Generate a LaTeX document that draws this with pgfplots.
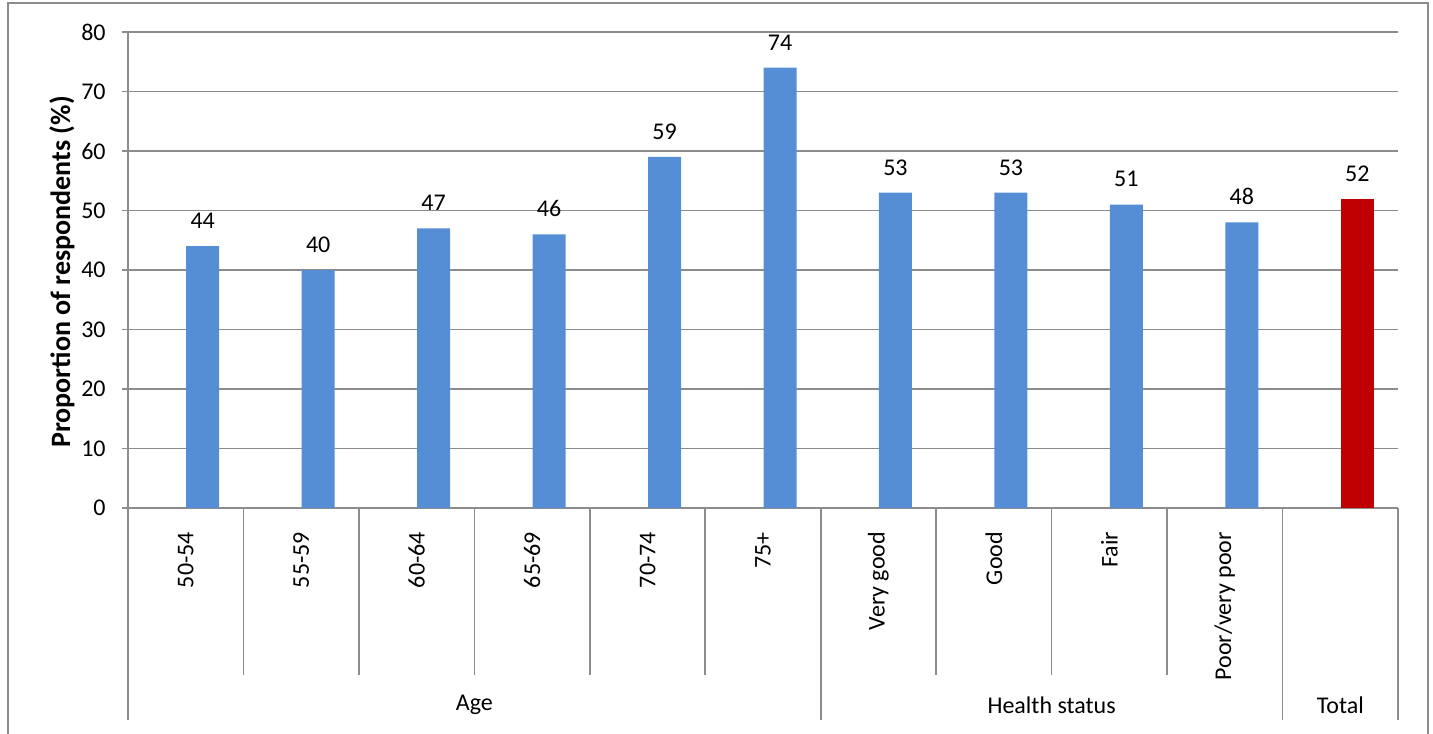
\documentclass[border=0pt]{standalone}
\usepackage{fontspec}
\setmainfont{Carlito}
\usepackage{pgfplots}
\pgfplotsset{compat=1.18}
\definecolor{barblue}{HTML}{558ED5}
\definecolor{barred}{HTML}{C00000}
\definecolor{rulegray}{HTML}{8C8C8C}
\begin{document}
\begin{tikzpicture}[font=\fontsize{12}{14}\selectfont]
\path[use as bounding box] (0,0) rectangle (716.5pt,366.5pt);
% chart frame
\draw[rulegray, line width=0.8pt] (4pt,-10pt) rectangle (714pt,365pt);
\begin{axis}[
  at={(64pt,112.5pt)}, anchor=south west,
  scale only axis, width=635pt, height=238pt,
  xmin=-0.5, xmax=10.5, ymin=0, ymax=80,
  ytick={0,10,...,80}, xtick=\empty,
  axis x line*=bottom, axis y line*=left,
  axis line style={rulegray, line width=0.8pt, -},
  ymajorgrids, grid style={rulegray, line width=0.8pt},
  ytick style={rulegray, line width=0.8pt},
  tick align=outside, major tick length=3pt,
  yticklabel style={inner sep=0pt, xshift=-8pt, font=\fontsize{12}{14}\selectfont},
  /pgf/number format/assume math mode=true,
  ybar, clip=false,
  nodes near coords,
  nodes near coords style={anchor=south, inner sep=0pt, yshift=8.5pt,
    font=\fontsize{12}{14}\selectfont, black},
]
\addplot[fill=barblue, draw=none, bar width=16.5pt, bar shift=8.5pt] coordinates {
  (0,44) (1,40) (2,47) (3,46) (4,59) (5,74) (6,53) (7,53) (8,51) (9,48)};
\addplot[fill=barred, draw=none, bar width=16.5pt, bar shift=8.5pt] coordinates {
  (10,52)};

% category dividers below the axis
\pgfplotsinvokeforeach{0.5,1.5,2.5,3.5,4.5,6.5,7.5,8.5}{
  \draw[rulegray, line width=0.8pt] (axis cs:#1,0) -- ++(0pt,-83.5pt);}
\pgfplotsinvokeforeach{-0.5,5.5,9.5,10.5}{
  \draw[rulegray, line width=0.8pt] (axis cs:#1,0) -- ++(0pt,-106pt);}

% first-level category names
\node[rotate=90, anchor=east] at ([yshift=-8.5pt]axis cs:0,0) {50-54};
\node[rotate=90, anchor=east] at ([yshift=-8.5pt]axis cs:1,0) {55-59};
\node[rotate=90, anchor=east] at ([yshift=-8.5pt]axis cs:2,0) {60-64};
\node[rotate=90, anchor=east] at ([yshift=-8.5pt]axis cs:3,0) {65-69};
\node[rotate=90, anchor=east] at ([yshift=-8.5pt]axis cs:4,0) {70-74};
\node[rotate=90, anchor=east] at ([yshift=-8.5pt]axis cs:5,0) {75+};
\node[rotate=90, anchor=east] at ([yshift=-8.5pt]axis cs:6,0) {Very good};
\node[rotate=90, anchor=east] at ([yshift=-8.5pt]axis cs:7,0) {Good};
\node[rotate=90, anchor=east] at ([yshift=-8.5pt]axis cs:8,0) {Fair};
\node[rotate=90, anchor=east] at ([yshift=-8.5pt]axis cs:9,0) {Poor/very poor};

% group names
\node at ([yshift=-98.5pt]axis cs:2.5,0) {Age};
\node at ([yshift=-98.5pt]axis cs:7.5,0) {Health status};
\node at ([yshift=-98.5pt]axis cs:10,0) {Total};

% value axis title
\node[rotate=90, font=\fontsize{14}{17}\selectfont\bfseries]
  at ([xshift=-33pt, yshift=-1pt]rel axis cs:0,0.5) {Proportion of respondents (\%)};
\end{axis}
\end{tikzpicture}
\end{document}
